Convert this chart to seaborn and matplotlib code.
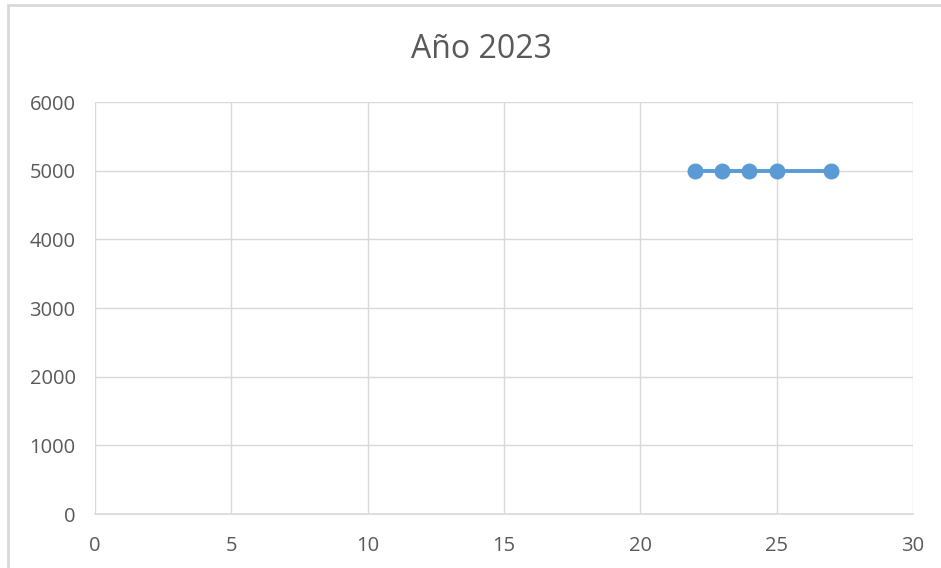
import matplotlib
matplotlib.use("Agg")
import matplotlib.pyplot as plt
from matplotlib.patches import Rectangle
import seaborn as sns
import pandas as pd

# ==============================
# Data
# ==============================
x_values = [22, 23, 24, 25, 27]
y_values = [5000, 5000, 5000, 5000, 5000]
x_ticks = [0, 5, 10, 15, 20, 25, 30]
y_ticks = [0, 1000, 2000, 3000, 4000, 5000, 6000]
title = "Año 2023"

df = pd.DataFrame({"x": x_values, "y": y_values})

sns.set_style("white")
plt.rcParams["font.family"] = ["Open Sans", "DejaVu Sans"]

text_color = "#595959"
grid_color = "#d9d9d9"
blue = "#5B9BD5"

fig = plt.figure(figsize=(9.41, 5.68), dpi=100)
ax = fig.add_axes([95 / 941, 1 - 514 / 568, (913 - 95) / 941, (514 - 102) / 568])

sns.lineplot(data=df, x="x", y="y", ax=ax, color=blue, linewidth=2.8,
             marker="o", markersize=11.5, markeredgewidth=0, sort=False)

ax.set_xlim(0, 30)
ax.set_ylim(0, 6000)
ax.set_xticks(x_ticks)
ax.set_yticks(y_ticks)
ax.set_xlabel("")
ax.set_ylabel("")

ax.grid(True, color=grid_color, linewidth=1)
ax.set_axisbelow(True)
for side in ["top", "right", "left"]:
    ax.spines[side].set_visible(False)
ax.spines["bottom"].set_color(grid_color)
ax.spines["bottom"].set_linewidth(1.2)

ax.tick_params(axis="both", length=0, labelsize=14.5, colors=text_color)
ax.tick_params(axis="x", pad=16)
ax.tick_params(axis="y", pad=14)

fig.text(481 / 941, 1 - 49 / 568, title, ha="center", va="center",
         fontsize=23, color=text_color)

# chart area border (right/bottom edges fall outside the image)
fig.patches.append(Rectangle((8 / 941, -0.1), 1.2, 1 - 5 / 568 + 0.1,
                             transform=fig.transFigure, fill=False,
                             edgecolor=grid_color, linewidth=2))

fig.savefig("out.png", dpi=100)
